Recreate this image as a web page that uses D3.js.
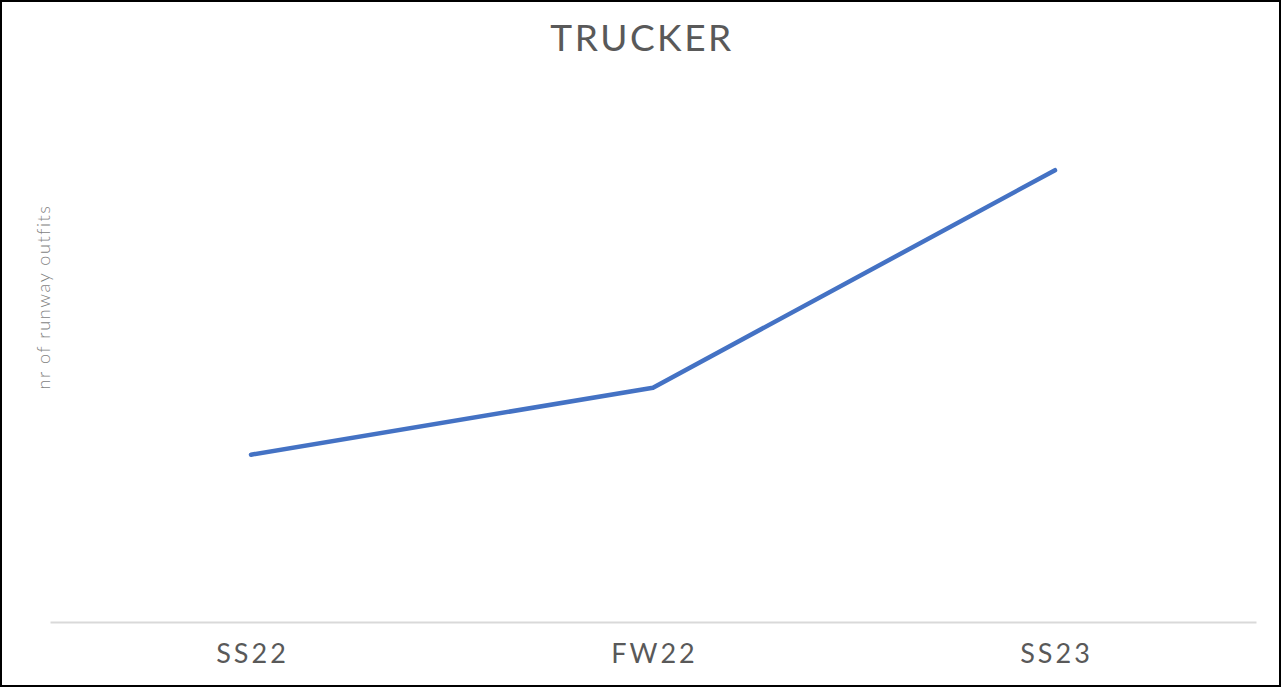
<!DOCTYPE html>
<html>
<head>
<meta charset="utf-8">
<script src="https://cdn.jsdelivr.net/npm/d3@7"></script>
<style>
  html, body { margin: 0; padding: 0; background: #fff; }
  svg { display: block; font-family: 'Lato', 'Open Sans', sans-serif; }
</style>
</head>
<body>
<svg id="chart" width="1281" height="687"></svg>
<script>
const seasons = ['SS22', 'FW22', 'SS23'];
const outfits = [10, 14, 27];
const chartTitle = 'TRUCKER';
const yLabel = 'nr of runway outfits';

const width = 1281;
const height = 687;
const margin = { top: 120, right: 25, bottom: 65, left: 50 };

const svg = d3.select('#chart');

// outer frame
svg.append('rect')
  .attr('x', 1).attr('y', 1)
  .attr('width', width - 2).attr('height', height - 2)
  .attr('fill', '#fff')
  .attr('stroke', '#000')
  .attr('stroke-width', 2);

const x = d3.scaleBand()
  .domain(seasons)
  .range([margin.left, width - margin.right]);

const y = d3.scaleLinear()
  .domain([0, 30])
  .range([height - margin.bottom, margin.top]);

// x axis
const xAxis = svg.append('g')
  .attr('transform', 'translate(0,' + (height - margin.bottom) + ')')
  .call(d3.axisBottom(x).tickSize(0).tickPadding(22));

xAxis.select('.domain')
  .attr('stroke', '#d9d9d9')
  .attr('stroke-width', 2);

xAxis.selectAll('text')
  .attr('fill', '#595959')
  .attr('dx', 1.5)
  .style('font-size', '27px')
  .style('letter-spacing', '3px')
  .style('font-family', 'Lato, sans-serif');

// line
const line = d3.line()
  .x((d, i) => x(seasons[i]) + x.bandwidth() / 2)
  .y(d => y(d));

svg.append('path')
  .datum(outfits)
  .attr('d', line)
  .attr('fill', 'none')
  .attr('stroke', '#4472c4')
  .attr('stroke-width', 4.5)
  .attr('stroke-linecap', 'round')
  .attr('stroke-linejoin', 'round');

// title
svg.append('text')
  .attr('x', width / 2 + 1.5)
  .attr('y', 51)
  .attr('text-anchor', 'middle')
  .attr('fill', '#595959')
  .style('font-size', '37px')
  .style('letter-spacing', '2.5px')
  .text(chartTitle);

// y label
svg.append('text')
  .attr('transform', 'translate(50,297) rotate(-90)')
  .attr('text-anchor', 'middle')
  .attr('fill', '#7f7f7f')
  .style('font-size', '18px')
  .style('font-weight', 300)
  .style('letter-spacing', '1.6px')
  .text(yLabel);
</script>
</body>
</html>
